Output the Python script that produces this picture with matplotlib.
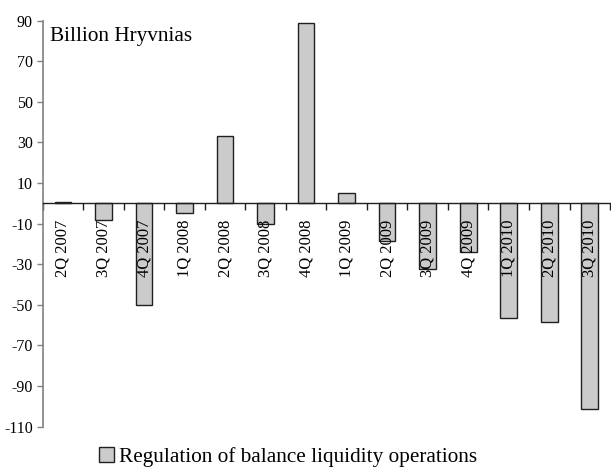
import matplotlib
matplotlib.use("Agg")
import matplotlib.pyplot as plt
import numpy as np

quarters = ["2Q 2007", "3Q 2007", "4Q 2007", "1Q 2008", "2Q 2008", "3Q 2008",
            "4Q 2008", "1Q 2009", "2Q 2009", "3Q 2009", "4Q 2009", "1Q 2010",
            "2Q 2010", "3Q 2010"]
values = [0.8, -8, -50, -5, 33, -10, 88.7, 5, -18.4, -32.5, -24.1, -56.4, -58.5, -101.5]
yticks = [90, 70, 50, 30, 10, -10, -30, -50, -70, -90, -110]
series_name = "Regulation of balance liquidity operations"
unit_label = "Billion Hryvnias"

plt.rcParams['font.family'] = ['Liberation Serif', 'DejaVu Serif']

fig = plt.figure(figsize=(6.11, 4.67), dpi=100)
ax = fig.add_axes([0.0699, 0.0867, 0.9285, 0.869])

x = np.arange(len(quarters))
ax.bar(x, values, width=0.41, color="#cbcbcb", edgecolor="#202020", linewidth=1.0,
       label=series_name, zorder=1)

ax.set_xlim(-0.5, len(quarters) - 0.5)
ax.set_ylim(-110, 90)
ax.set_yticks(yticks)
ax.set_yticklabels([str(v) for v in yticks], fontsize=11.5)
ax.tick_params(axis='y', direction='out', length=4, width=1, color="#808080", pad=3)

ax.spines['top'].set_visible(False)
ax.spines['right'].set_visible(False)
ax.spines['left'].set_color("#808080")
ax.spines['left'].set_linewidth(1.2)
ax.spines['bottom'].set_position(('data', 0))
ax.spines['bottom'].set_color("#202020")
ax.spines['bottom'].set_linewidth(1.0)

# category labels at centers, tick marks between categories
ax.set_xticks(x)
ax.set_xticklabels(quarters, rotation=90, fontsize=12, va='top')
ax.tick_params(axis='x', which='major', length=0, pad=12)
ax.set_xticks(np.arange(len(quarters) + 1) - 0.5, minor=True)
ax.tick_params(axis='x', which='minor', direction='out', length=5, width=1, color="#202020")

ax.text(0.012, 0.985, unit_label, transform=ax.transAxes, fontsize=15.3,
        va='top', ha='left')

fig.legend(loc='center', bbox_to_anchor=(0.472, 0.022), frameon=False,
           fontsize=15.3, handlelength=0.7, handleheight=0.7, handletextpad=0.25,
           borderpad=0, borderaxespad=0)

fig.savefig("out.png", dpi=100)
